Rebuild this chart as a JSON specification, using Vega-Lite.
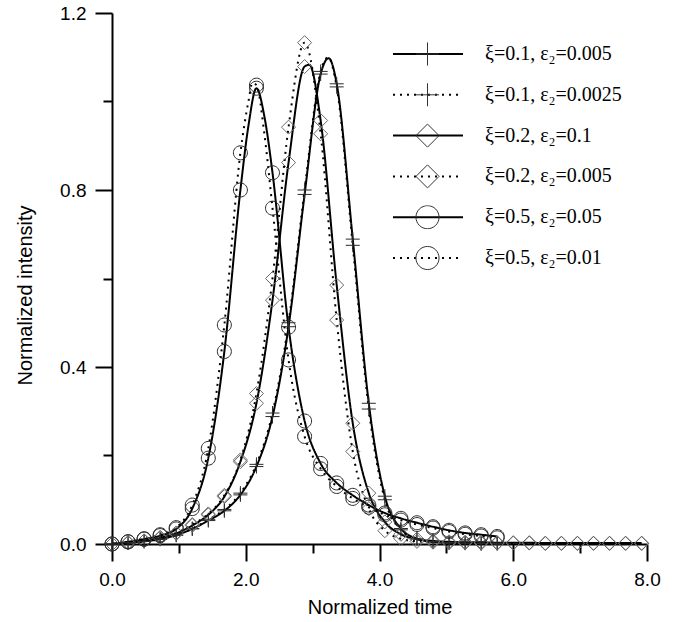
{
  "$schema": "https://vega.github.io/schema/vega-lite/v6.json",
  "width": 535,
  "height": 531,
  "autosize": {"type": "none"},
  "padding": {"left": 112, "top": 13, "right": 37, "bottom": 78},
  "background": "white",
  "config": {
    "view": {"stroke": null},
    "axis": {
      "grid": false,
      "domainColor": "black",
      "domainWidth": 2,
      "tickColor": "black",
      "tickWidth": 2,
      "labelFont": "Liberation Sans",
      "labelFontSize": 19,
      "labelColor": "black",
      "labelFlush": false,
      "labelOverlap": false,
      "titleFont": "Liberation Sans",
      "titleFontSize": 20,
      "titleFontWeight": "normal",
      "titleColor": "black"
    }
  },
  "data": {
    "values": [
      {"s":"a","t":0,"I":0,"m":1},{"s":"a","t":0.24,"I":0.003,"m":1},{"s":"a","t":0.48,"I":0.006,"m":1},{"s":"a","t":0.72,"I":0.011,"m":1},{"s":"a","t":0.96,"I":0.02,"m":1},{"s":"a","t":1.2,"I":0.034,"m":1},{"s":"a","t":1.44,"I":0.053,"m":1},{"s":"a","t":1.68,"I":0.075,"m":1},{"s":"a","t":1.92,"I":0.111,"m":1},{"s":"a","t":2.16,"I":0.175,"m":1},{"s":"a","t":2.4,"I":0.288,"m":1},{"s":"a","t":2.64,"I":0.491,"m":1},{"s":"a","t":2.88,"I":0.79,"m":1},{"s":"a","t":3.12,"I":1.062,"m":1},{"s":"a","t":3.24,"I":1.098,"m":0},{"s":"a","t":3.36,"I":1.04,"m":1},{"s":"a","t":3.6,"I":0.689,"m":1},{"s":"a","t":3.84,"I":0.318,"m":1},{"s":"a","t":4.08,"I":0.108,"m":1},{"s":"a","t":4.32,"I":0.035,"m":1},{"s":"a","t":4.56,"I":0.012,"m":1},{"s":"a","t":4.8,"I":0.005,"m":1},{"s":"a","t":5.04,"I":0.003,"m":1},{"s":"a","t":5.28,"I":0.002,"m":1},{"s":"a","t":5.52,"I":0.001,"m":1},{"s":"a","t":5.76,"I":0.001,"m":1},
      {"s":"b","t":0,"I":0,"m":1},{"s":"b","t":0.24,"I":0.003,"m":1},{"s":"b","t":0.48,"I":0.006,"m":1},{"s":"b","t":0.72,"I":0.011,"m":1},{"s":"b","t":0.96,"I":0.02,"m":1},{"s":"b","t":1.2,"I":0.035,"m":1},{"s":"b","t":1.44,"I":0.055,"m":1},{"s":"b","t":1.68,"I":0.078,"m":1},{"s":"b","t":1.92,"I":0.115,"m":1},{"s":"b","t":2.16,"I":0.18,"m":1},{"s":"b","t":2.4,"I":0.296,"m":1},{"s":"b","t":2.64,"I":0.5,"m":1},{"s":"b","t":2.88,"I":0.8,"m":1},{"s":"b","t":3.12,"I":1.068,"m":1},{"s":"b","t":3.23,"I":1.1,"m":0},{"s":"b","t":3.36,"I":1.033,"m":1},{"s":"b","t":3.6,"I":0.675,"m":1},{"s":"b","t":3.84,"I":0.305,"m":1},{"s":"b","t":4.08,"I":0.1,"m":1},{"s":"b","t":4.32,"I":0.032,"m":1},{"s":"b","t":4.56,"I":0.011,"m":1},{"s":"b","t":4.8,"I":0.005,"m":1},{"s":"b","t":5.04,"I":0.003,"m":1},{"s":"b","t":5.28,"I":0.002,"m":1},{"s":"b","t":5.52,"I":0.001,"m":1},{"s":"b","t":5.76,"I":0.001,"m":1},
      {"s":"c","t":0,"I":0,"m":1},{"s":"c","t":0.24,"I":0.003,"m":1},{"s":"c","t":0.48,"I":0.007,"m":1},{"s":"c","t":0.72,"I":0.014,"m":1},{"s":"c","t":0.96,"I":0.024,"m":1},{"s":"c","t":1.2,"I":0.042,"m":1},{"s":"c","t":1.44,"I":0.066,"m":1},{"s":"c","t":1.68,"I":0.107,"m":1},{"s":"c","t":1.92,"I":0.186,"m":1},{"s":"c","t":2.16,"I":0.318,"m":1},{"s":"c","t":2.4,"I":0.551,"m":1},{"s":"c","t":2.64,"I":0.862,"m":1},{"s":"c","t":2.88,"I":1.079,"m":1},{"s":"c","t":2.95,"I":1.083,"m":0},{"s":"c","t":3.12,"I":0.957,"m":1},{"s":"c","t":3.36,"I":0.585,"m":1},{"s":"c","t":3.6,"I":0.273,"m":1},{"s":"c","t":3.84,"I":0.115,"m":1},{"s":"c","t":4.08,"I":0.05,"m":1},{"s":"c","t":4.32,"I":0.022,"m":1},{"s":"c","t":4.56,"I":0.011,"m":1},{"s":"c","t":4.8,"I":0.007,"m":1},{"s":"c","t":5.04,"I":0.005,"m":1},{"s":"c","t":5.28,"I":0.004,"m":1},{"s":"c","t":5.52,"I":0.004,"m":1},{"s":"c","t":5.76,"I":0.003,"m":1},{"s":"c","t":6.0,"I":0.003,"m":1},{"s":"c","t":6.24,"I":0.003,"m":1},{"s":"c","t":6.48,"I":0.002,"m":1},{"s":"c","t":6.72,"I":0.002,"m":1},{"s":"c","t":6.96,"I":0.002,"m":1},{"s":"c","t":7.2,"I":0.002,"m":1},{"s":"c","t":7.44,"I":0.002,"m":1},{"s":"c","t":7.68,"I":0.002,"m":1},{"s":"c","t":7.92,"I":0.002,"m":1},
      {"s":"d","t":0,"I":0,"m":1},{"s":"d","t":0.24,"I":0.003,"m":1},{"s":"d","t":0.48,"I":0.007,"m":1},{"s":"d","t":0.72,"I":0.015,"m":1},{"s":"d","t":0.96,"I":0.025,"m":1},{"s":"d","t":1.2,"I":0.044,"m":1},{"s":"d","t":1.44,"I":0.068,"m":1},{"s":"d","t":1.68,"I":0.11,"m":1},{"s":"d","t":1.92,"I":0.19,"m":1},{"s":"d","t":2.16,"I":0.34,"m":1},{"s":"d","t":2.4,"I":0.6,"m":1},{"s":"d","t":2.64,"I":0.942,"m":1},{"s":"d","t":2.88,"I":1.133,"m":1},{"s":"d","t":3.12,"I":0.927,"m":1},{"s":"d","t":3.36,"I":0.506,"m":1},{"s":"d","t":3.6,"I":0.209,"m":1},{"s":"d","t":3.84,"I":0.08,"m":1},{"s":"d","t":4.08,"I":0.03,"m":1},{"s":"d","t":4.32,"I":0.012,"m":1},{"s":"d","t":4.56,"I":0.006,"m":1},{"s":"d","t":4.8,"I":0.004,"m":1},{"s":"d","t":5.04,"I":0.003,"m":1},{"s":"d","t":5.28,"I":0.003,"m":1},{"s":"d","t":5.52,"I":0.002,"m":1},{"s":"d","t":5.76,"I":0.002,"m":1},{"s":"d","t":6.0,"I":0.002,"m":1},{"s":"d","t":6.24,"I":0.002,"m":1},{"s":"d","t":6.48,"I":0.001,"m":1},{"s":"d","t":6.72,"I":0.001,"m":1},{"s":"d","t":6.96,"I":0.001,"m":1},{"s":"d","t":7.2,"I":0.001,"m":1},{"s":"d","t":7.44,"I":0.001,"m":1},{"s":"d","t":7.68,"I":0.001,"m":1},{"s":"d","t":7.92,"I":0.001,"m":1},
      {"s":"e","t":0,"I":0,"m":1},{"s":"e","t":0.24,"I":0.005,"m":1},{"s":"e","t":0.48,"I":0.011,"m":1},{"s":"e","t":0.72,"I":0.019,"m":1},{"s":"e","t":0.96,"I":0.034,"m":1},{"s":"e","t":1.2,"I":0.08,"m":1},{"s":"e","t":1.44,"I":0.194,"m":1},{"s":"e","t":1.68,"I":0.435,"m":1},{"s":"e","t":1.92,"I":0.8,"m":1},{"s":"e","t":2.04,"I":0.945,"m":0},{"s":"e","t":2.16,"I":1.03,"m":1},{"s":"e","t":2.28,"I":0.965,"m":0},{"s":"e","t":2.4,"I":0.839,"m":1},{"s":"e","t":2.64,"I":0.49,"m":1},{"s":"e","t":2.88,"I":0.278,"m":1},{"s":"e","t":3.12,"I":0.182,"m":1},{"s":"e","t":3.36,"I":0.138,"m":1},{"s":"e","t":3.6,"I":0.11,"m":1},{"s":"e","t":3.84,"I":0.088,"m":1},{"s":"e","t":4.08,"I":0.07,"m":1},{"s":"e","t":4.32,"I":0.058,"m":1},{"s":"e","t":4.56,"I":0.048,"m":1},{"s":"e","t":4.8,"I":0.039,"m":1},{"s":"e","t":5.04,"I":0.031,"m":1},{"s":"e","t":5.28,"I":0.025,"m":1},{"s":"e","t":5.52,"I":0.021,"m":1},{"s":"e","t":5.76,"I":0.017,"m":1},
      {"s":"f","t":0,"I":0,"m":1},{"s":"f","t":0.24,"I":0.005,"m":1},{"s":"f","t":0.48,"I":0.012,"m":1},{"s":"f","t":0.72,"I":0.021,"m":1},{"s":"f","t":0.96,"I":0.037,"m":1},{"s":"f","t":1.2,"I":0.088,"m":1},{"s":"f","t":1.44,"I":0.216,"m":1},{"s":"f","t":1.68,"I":0.495,"m":1},{"s":"f","t":1.92,"I":0.884,"m":1},{"s":"f","t":2.04,"I":1.0,"m":0},{"s":"f","t":2.1,"I":1.042,"m":0},{"s":"f","t":2.16,"I":1.037,"m":1},{"s":"f","t":2.28,"I":0.925,"m":0},{"s":"f","t":2.4,"I":0.759,"m":1},{"s":"f","t":2.64,"I":0.416,"m":1},{"s":"f","t":2.88,"I":0.243,"m":1},{"s":"f","t":3.12,"I":0.17,"m":1},{"s":"f","t":3.36,"I":0.13,"m":1},{"s":"f","t":3.6,"I":0.103,"m":1},{"s":"f","t":3.84,"I":0.083,"m":1},{"s":"f","t":4.08,"I":0.066,"m":1},{"s":"f","t":4.32,"I":0.054,"m":1},{"s":"f","t":4.56,"I":0.044,"m":1},{"s":"f","t":4.8,"I":0.036,"m":1},{"s":"f","t":5.04,"I":0.028,"m":1},{"s":"f","t":5.28,"I":0.022,"m":1},{"s":"f","t":5.52,"I":0.018,"m":1},{"s":"f","t":5.76,"I":0.014,"m":1}
    ]
  },
  "encoding": {
    "x": {
      "field": "t",
      "type": "quantitative",
      "scale": {"domain": [0, 8], "nice": false, "zero": false},
      "axis": {
        "values": [0, 1, 2, 3, 4, 5, 6, 7, 8],
        "labelExpr": "datum.value % 2 == 0 ? format(datum.value, '.1f') : ''",
        "tickSize": {"condition": {"test": "datum.value % 2 == 0", "value": 17}, "value": 9},
        "labelPadding": 9,
        "title": "Normalized time",
        "titleY": 63,
        "titleBaseline": "middle"
      }
    },
    "y": {
      "field": "I",
      "type": "quantitative",
      "scale": {"domain": [0, 1.2], "nice": false, "zero": false},
      "axis": {
        "values": [0, 0.2, 0.4, 0.6, 0.8, 1.0, 1.2],
        "labelExpr": "round(datum.value * 10) % 4 == 0 ? format(datum.value, '.1f') : ''",
        "tickSize": {"condition": {"test": "round(datum.value * 10) % 4 == 0", "value": 17}, "value": 9},
        "labelPadding": 9,
        "title": "Normalized intensity",
        "titleX": -87,
        "titleY": 282,
        "titleBaseline": "middle"
      }
    }
  },
  "layer": [
    {
      "mark": {"type": "line", "color": "black", "strokeWidth": 2, "interpolate": "monotone"},
      "encoding": {
        "strokeDash": {
          "field": "s",
          "type": "nominal",
          "scale": {"domain": ["a", "b", "c", "d", "e", "f"], "range": [[1, 0], [2, 5], [1, 0], [2, 5], [1, 0], [2, 5]]},
          "legend": {
            "title": null,
            "orient": "none",
            "legendX": 280,
            "legendY": 29,
            "padding": 0,
            "symbolType": "stroke",
            "symbolSize": 4900,
            "symbolStrokeWidth": 2,
            "symbolStrokeColor": "black",
            "clipHeight": 24,
            "rowPadding": 16.8,
            "labelOffset": 21,
            "labelFont": "Liberation Serif",
            "labelFontSize": 20,
            "labelColor": "black",
            "labelLimit": 300,
            "labelBaseline": "middle",
            "labelExpr": "datum.value == 'a' ? 'ξ=0.1, ε₂=0.005' : datum.value == 'b' ? 'ξ=0.1, ε₂=0.0025' : datum.value == 'c' ? 'ξ=0.2, ε₂=0.1' : datum.value == 'd' ? 'ξ=0.2, ε₂=0.005' : datum.value == 'e' ? 'ξ=0.5, ε₂=0.05' : 'ξ=0.5, ε₂=0.01'"
          }
        }
      }
    },
    {
      "transform": [{"filter": "datum.m == 1"}],
      "mark": {"type": "point", "filled": false, "strokeWidth": 1, "size": 1800, "opacity": 1},
      "encoding": {
        "stroke": {"condition": {"test": "datum.s == 'c' || datum.s == 'd'", "value": "#6a6a6a"}, "value": "#2a2a2a"},
        "shape": {
          "field": "s",
          "type": "nominal",
          "scale": {
            "range": [
              "M0,-0.33V0.33M-0.33,0H0.33",
              "M0,-0.33V0.33M-0.33,0H0.33",
              "M0,-0.33L0.33,0L0,0.33L-0.33,0Z",
              "M0,-0.33L0.33,0L0,0.33L-0.33,0Z",
              "M0.33,0A0.33,0.33,0,1,1,-0.33,0A0.33,0.33,0,1,1,0.33,0Z",
              "M0.33,0A0.33,0.33,0,1,1,-0.33,0A0.33,0.33,0,1,1,0.33,0Z"
            ]
          },
          "legend": {
            "title": null,
            "orient": "none",
            "legendX": 280,
            "legendY": 29,
            "padding": 0,
            "symbolSize": 4900,
            "symbolStrokeWidth": 1,
            "symbolStrokeColor": "#333333",
            "symbolFillColor": "transparent",
            "clipHeight": 24,
            "rowPadding": 16.8,
            "labelOffset": 21,
            "labelFontSize": 20,
            "labelExpr": "''"
          }
        }
      }
    }
  ]
}
